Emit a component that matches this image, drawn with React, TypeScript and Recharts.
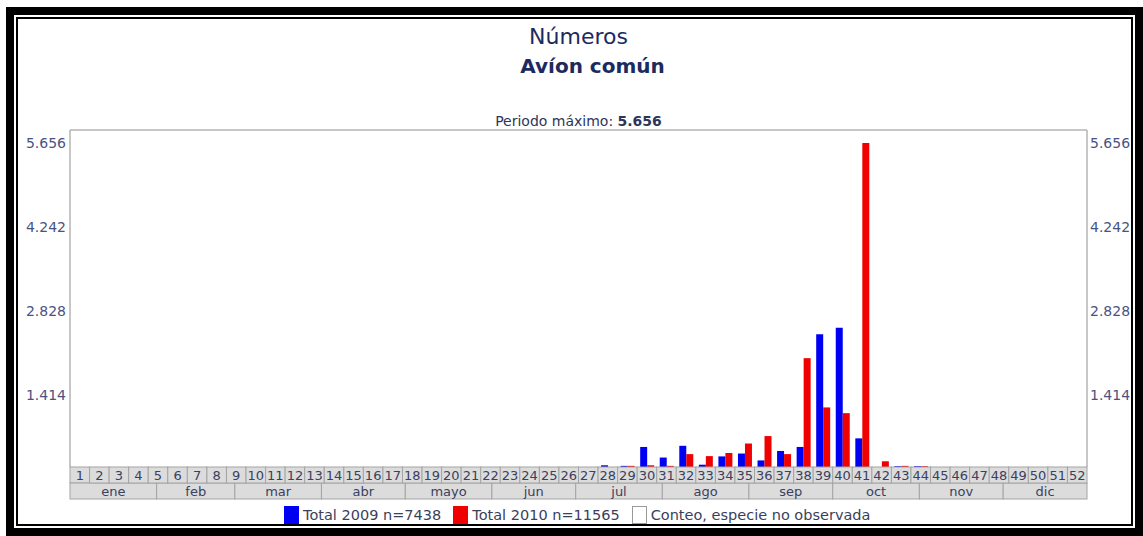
import { ComposedChart, Bar, XAxis, YAxis, ReferenceLine } from 'recharts';

// semanas 1..52
const weeks = [
  1, 2, 3, 4, 5, 6, 7, 8, 9, 10, 11, 12, 13, 14, 15, 16, 17, 18, 19, 20, 21, 22, 23, 24, 25, 26,
  27, 28, 29, 30, 31, 32, 33, 34, 35, 36, 37, 38, 39, 40, 41, 42, 43, 44, 45, 46, 47, 48, 49, 50, 51, 52,
];

// Total 2009 n=7438 (semanas 27..44, resto 0)
const total2009 = [
  0, 0, 0, 0, 0, 0, 0, 0, 0, 0, 0, 0, 0, 0, 0, 0, 0, 0, 0, 0, 0, 0, 0, 0, 0, 0,
  0, 30, 20, 350, 165, 370, 40, 185, 235, 115, 280, 350, 2317, 2433, 500, 0, 15, 15, 0, 0, 0, 0, 0, 0, 0, 0,
];

// Total 2010 n=11565
const total2010 = [
  0, 0, 0, 0, 0, 0, 0, 0, 0, 0, 0, 0, 0, 0, 0, 0, 0, 0, 0, 0, 0, 0, 0, 0, 0, 0,
  0, 0, 20, 30, 20, 225, 190, 245, 410, 540, 225, 1900, 1040, 940, 5656, 100, 20, 15, 0, 0, 0, 0, 0, 0, 0, 0,
];

const months = ['ene', 'feb', 'mar', 'abr', 'mayo', 'jun', 'jul', 'ago', 'sep', 'oct', 'nov', 'dic'];
const monthDays = [31, 28, 31, 30, 31, 30, 31, 31, 30, 31, 30, 30];

const yTicks = [1414, 2828, 4242, 5656];
const maxValue = 5656;

const PLOT_W = 1017;
const Y_TOP = 5883;
const FONT = '"DejaVu Sans", Verdana, sans-serif';
const CELL_BG = '#dcdcdc';
const CELL_LINE = '#a4a4a4';
const CELL_TEXT = '#3a4060';

const fmt = (v: number) => String(v).replace(/\B(?=(\d{3})+(?!\d))/g, '.');

const data = weeks.map((w, i) => ({ week: w, y2009: total2009[i], y2010: total2010[i] }));

const dayCount = monthDays.reduce((a, b) => a + b, 0);

// fila de semanas; la primera celda dibuja tambien la fila de meses
const WeekTick = (props: any) => {
  const { x, y, payload, index } = props;
  const w = PLOT_W / 52;
  const perDay = PLOT_W / dayCount;
  let start = x - w / 2;
  return (
    <g>
      <rect x={x - w / 2} y={y} width={w} height={16} fill={CELL_BG} stroke={CELL_LINE} strokeWidth={1} />
      <text x={x} y={y + 13} textAnchor="middle" fontSize={13} fill={CELL_TEXT} fontFamily={FONT}>
        {payload.value}
      </text>
      {index === 0 &&
        months.map((m, i) => {
          const mw = monthDays[i] * perDay;
          const mx = start;
          start += mw;
          return (
            <g key={m}>
              <rect x={mx} y={y + 16} width={mw} height={16} fill={CELL_BG} stroke={CELL_LINE} strokeWidth={1} />
              <text x={mx + mw / 2} y={y + 29} textAnchor="middle" fontSize={13} fill={CELL_TEXT} fontFamily={FONT}>
                {m}
              </text>
            </g>
          );
        })}
    </g>
  );
};

const YTick = (props: any) => {
  const { x, y, payload, textAnchor } = props;
  const shift = ((maxValue - payload.value) / maxValue) * 12;
  return (
    <text x={x} y={y + shift + 5} textAnchor={textAnchor} fontSize={14} fill="#4a5283" fontFamily={FONT}>
      {fmt(payload.value)}
    </text>
  );
};

const Swatch = ({ color, border }: { color: string; border?: boolean }) => (
  <span
    style={{
      display: 'inline-block',
      width: 15,
      height: 18,
      background: color,
      border: border ? '1px solid #9a9a9a' : 'none',
      boxSizing: 'border-box',
      marginRight: 4,
    }}
  />
);

export default function App() {
  return (
    <div style={{ position: 'absolute', left: 0, top: 0, width: 1143, height: 536, background: '#fff', overflow: 'hidden', fontFamily: FONT }}>
      <div style={{ position: 'absolute', left: 6, top: 7, width: 1137, height: 529, border: '8px solid #000', boxSizing: 'border-box' }} />
      <div style={{ position: 'absolute', left: 16, top: 17, width: 1117, height: 509, border: '2px solid #000', boxSizing: 'border-box' }} />

      <div style={{ position: 'absolute', left: 70, width: PLOT_W, top: 23, textAlign: 'center', color: '#1c2a60', fontSize: 22, lineHeight: '28px' }}>
        Números
      </div>
      <div style={{ position: 'absolute', left: 84, width: PLOT_W, top: 53, textAlign: 'center', color: '#1c2a60', fontSize: 20, fontWeight: 'bold', lineHeight: '26px' }}>
        Avíon común
      </div>
      <div style={{ position: 'absolute', left: 70, width: PLOT_W, top: 113, textAlign: 'center', color: '#2e3558', fontSize: 14, lineHeight: '17px' }}>
        Periodo máximo: <b>{fmt(maxValue)}</b>
      </div>

      <ComposedChart
        width={1143}
        height={536}
        data={data}
        margin={{ top: 130, right: 0, bottom: 37, left: 0 }}
        barGap={0}
        style={{ position: 'absolute', left: 0, top: 0 }}
      >
        <XAxis
          xAxisId="w"
          dataKey="week"
          type="category"
          height={32}
          interval={0}
          tickLine={false}
          axisLine={false}
          tickSize={0}
          tickMargin={0}
          tick={<WeekTick />}
        />
        <YAxis
          yAxisId="l"
          width={70}
          domain={[0, Y_TOP]}
          ticks={yTicks}
          tickLine={false}
          tickSize={0}
          tickMargin={4}
          axisLine={{ stroke: '#b4b4b4', strokeWidth: 1.5 }}
          tick={<YTick />}
        />
        <YAxis
          yAxisId="r"
          orientation="right"
          width={56}
          domain={[0, Y_TOP]}
          ticks={yTicks}
          allowDataOverflow
          tickLine={false}
          tickSize={0}
          tickMargin={3}
          axisLine={{ stroke: '#b4b4b4', strokeWidth: 1.5 }}
          tick={<YTick />}
        />
        <ReferenceLine xAxisId="w" yAxisId="l" y={Y_TOP} stroke="#b4b4b4" strokeWidth={1.5} />
        <Bar xAxisId="w" yAxisId="l" dataKey="y2009" fill="#0000f2" barSize={7} isAnimationActive={false} />
        <Bar xAxisId="w" yAxisId="l" dataKey="y2010" fill="#f00000" barSize={7} isAnimationActive={false} />
      </ComposedChart>

      <div style={{ position: 'absolute', left: 284, top: 506, height: 18, display: 'flex', alignItems: 'center', fontSize: 14.5, color: '#3a3f5c', whiteSpace: 'nowrap' }}>
        <Swatch color="#0000f2" />
        <span style={{ marginRight: 12 }}>Total 2009 n=7438</span>
        <Swatch color="#f00000" />
        <span style={{ marginRight: 12 }}>Total 2010 n=11565</span>
        <Swatch color="#fff" border />
        <span>Conteo, especie no observada</span>
      </div>
    </div>
  );
}
